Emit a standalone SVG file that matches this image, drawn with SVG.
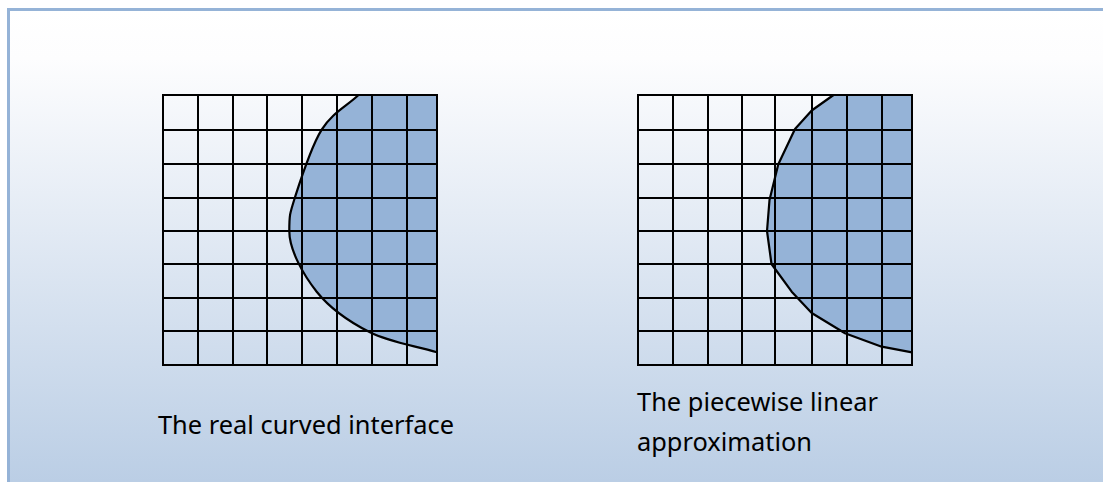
<svg xmlns="http://www.w3.org/2000/svg" width="1103" height="482" viewBox="0 0 1103 482">
  <defs>
    <linearGradient id="bg" x1="0" y1="0" x2="0" y2="1">
      <stop offset="0" stop-color="#ffffff"/>
      <stop offset="0.1" stop-color="#fdfdfe"/>
      <stop offset="1" stop-color="#b8cce4"/>
    </linearGradient>
  </defs>
  <style>
    .grid line { stroke: #000; stroke-width: 2; }
    .region { fill: #95b3d7; stroke: none; }
    .iface { fill: none; stroke: #000; stroke-width: 2.2; stroke-linejoin: round; }
    .label { font-family: "Noto Sans", "Open Sans", sans-serif; font-size: 25px; fill: #000; }
  </style>

  <rect id="background" x="8.5" y="9.5" width="1110" height="490" fill="url(#bg)" stroke="#95b3d7" stroke-width="3"/>

  <!-- Left panel: real curved interface -->
  <g id="left-panel">
    <path class="region" d="M358.5,95 C346.2,106.6 332.3,112.7 321.7,129.7 C311.1,146.8 300.4,180.4 295,197.3 C289.6,214.2 289.3,215 289.3,231 C289.3,250 303.3,274.8 316.7,291.7 C330.2,308.6 350,322.2 370,332.3 C390,342.4 414.5,345.6 437,352.3 L437,95 Z"/>
    <g class="grid">
      <line x1="163" y1="95" x2="163" y2="365"/>
      <line x1="198" y1="95" x2="198" y2="365"/>
      <line x1="233" y1="95" x2="233" y2="365"/>
      <line x1="267" y1="95" x2="267" y2="365"/>
      <line x1="302" y1="95" x2="302" y2="365"/>
      <line x1="337" y1="95" x2="337" y2="365"/>
      <line x1="372" y1="95" x2="372" y2="365"/>
      <line x1="407" y1="95" x2="407" y2="365"/>
      <line x1="437" y1="95" x2="437" y2="365"/>
      <line x1="162" y1="95" x2="438" y2="95"/>
      <line x1="162" y1="130" x2="438" y2="130"/>
      <line x1="162" y1="164" x2="438" y2="164"/>
      <line x1="162" y1="198" x2="438" y2="198"/>
      <line x1="162" y1="231" x2="438" y2="231"/>
      <line x1="162" y1="264" x2="438" y2="264"/>
      <line x1="162" y1="298" x2="438" y2="298"/>
      <line x1="162" y1="331" x2="438" y2="331"/>
      <line x1="162" y1="365" x2="438" y2="365"/>
    </g>
    <path class="iface" d="M358.5,95 C346.2,106.6 332.3,112.7 321.7,129.7 C311.1,146.8 300.4,180.4 295,197.3 C289.6,214.2 289.3,215 289.3,231 C289.3,250 303.3,274.8 316.7,291.7 C330.2,308.6 350,322.2 370,332.3 C390,342.4 414.5,345.6 437,352.3"/>
    <text class="label" x="158" y="434" textLength="296" lengthAdjust="spacingAndGlyphs">The real curved interface</text>
  </g>

  <!-- Right panel: piecewise linear approximation -->
  <g id="right-panel">
    <polygon class="region" points="833.5,95 811.7,110.5 795,129 778.3,164.3 769.5,200 767,231 771.5,264 791.7,291.7 811.7,313 845,333.3 881.7,346.7 912,352.3 912,95"/>
    <g class="grid">
      <line x1="638" y1="95" x2="638" y2="365"/>
      <line x1="673" y1="95" x2="673" y2="365"/>
      <line x1="708" y1="95" x2="708" y2="365"/>
      <line x1="742" y1="95" x2="742" y2="365"/>
      <line x1="775" y1="95" x2="775" y2="365"/>
      <line x1="812" y1="95" x2="812" y2="365"/>
      <line x1="847" y1="95" x2="847" y2="365"/>
      <line x1="882" y1="95" x2="882" y2="365"/>
      <line x1="912" y1="95" x2="912" y2="365"/>
      <line x1="637" y1="95" x2="913" y2="95"/>
      <line x1="637" y1="130" x2="913" y2="130"/>
      <line x1="637" y1="164" x2="913" y2="164"/>
      <line x1="637" y1="198" x2="913" y2="198"/>
      <line x1="637" y1="231" x2="913" y2="231"/>
      <line x1="637" y1="264" x2="913" y2="264"/>
      <line x1="637" y1="298" x2="913" y2="298"/>
      <line x1="637" y1="331" x2="913" y2="331"/>
      <line x1="637" y1="365" x2="913" y2="365"/>
    </g>
    <polyline class="iface" points="833.5,95 811.7,110.5 795,129 778.3,164.3 769.5,200 767,231 771.5,264 791.7,291.7 811.7,313 845,333.3 881.7,346.7 912,352.3"/>
    <text class="label" x="637" y="411" textLength="241" lengthAdjust="spacingAndGlyphs">The piecewise linear</text>
    <text class="label" x="637" y="451" textLength="175" lengthAdjust="spacingAndGlyphs">approximation</text>
  </g>
</svg>
